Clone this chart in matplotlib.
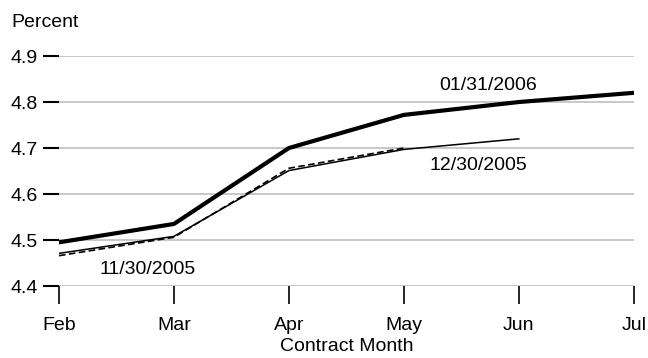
import matplotlib
matplotlib.use('Agg')
import matplotlib.pyplot as plt

# contract months and fed funds futures curves on three dates
months=['Feb','Mar','Apr','May','Jun','Jul']
jan31_2006=[4.495,4.535,4.70,4.772,4.80,4.82]
dec30_2005=[4.471,4.508,4.651,4.697,4.72]
nov30_2005=[4.466,4.506,4.656,4.70]
yticks=[4.4,4.5,4.6,4.7,4.8,4.9]

plt.rcParams['font.family']=['Liberation Sans','DejaVu Sans']
fs=14
fig=plt.figure(figsize=(6.48,3.58),dpi=100)
ax=fig.add_axes([0.091,0.201,0.887,0.6425])
x=range(len(months))
for yv in yticks:
  ax.axhline(yv,color='#c4c4c4',lw=1.3,zorder=0)
ax.plot(range(len(nov30_2005)),nov30_2005,color='k',lw=1.2,ls=(0,(4,2)),zorder=2)
ax.plot(range(len(dec30_2005)),dec30_2005,color='k',lw=1.1,zorder=3)
ax.plot(x,jan31_2006,color='k',lw=3.0,solid_capstyle='round',zorder=4)
ax.text(3.73,4.835,'01/31/2006',ha='center',va='center',fontsize=fs)
ax.text(3.65,4.663,'12/30/2005',ha='center',va='center',fontsize=fs)
ax.text(0.77,4.437,'11/30/2005',ha='center',va='center',fontsize=fs)
ax.set_xlim(0,5)
ax.set_ylim(4.4,4.9)
ax.set_xticks(list(x))
ax.set_xticklabels(months,fontsize=fs)
ax.set_yticks(yticks)
ax.set_yticklabels([f'{v:.1f}' for v in yticks],fontsize=fs)
ax.tick_params(axis='y',length=11.5,width=1.5,pad=4)
ax.tick_params(axis='x',length=13,width=1.2,pad=9)
for sp in ax.spines.values(): sp.set_visible(False)
ax.set_xlabel('Contract Month',fontsize=fs,labelpad=3)
fig.text(0.018,0.938,'Percent',fontsize=fs,ha='left',va='center')
fig.savefig('out.png',dpi=100)
